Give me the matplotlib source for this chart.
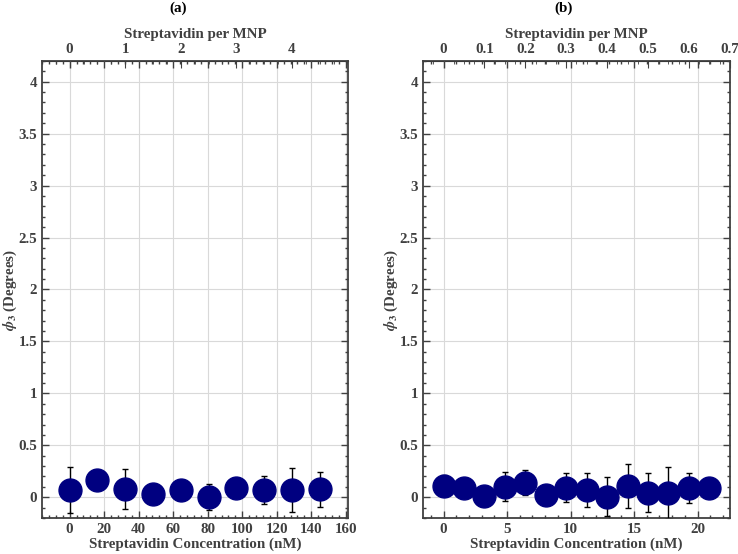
from matplotlib import pyplot as plt
from matplotlib.ticker import MultipleLocator, AutoMinorLocator

# nM of streptavidin per one "streptavidin per MNP"
NM_PER_MNP = 32.2

# panel (a)
conc_a = [0, 16.1, 32.2, 48.3, 64.4, 80.5, 96.6, 112.7, 128.8, 144.9]
phi_a = [0.067, 0.167, 0.08, 0.035, 0.07, 0.0, 0.087, 0.07, 0.067, 0.077]
err_a = [0.22, 0.077, 0.19, 0.087, 0.08, 0.125, 0.087, 0.135, 0.21, 0.17]

# panel (b)
conc_b = [0, 1.61, 3.22, 4.83, 6.44, 8.05, 9.66, 11.27, 12.88, 14.49,
          16.1, 17.71, 19.32, 20.93]
phi_b = [0.112, 0.087, 0.01, 0.103, 0.141, 0.022, 0.09, 0.07, 0.006, 0.106,
         0.045, 0.042, 0.09, 0.087]
err_b = [0.1, 0.075, 0.07, 0.137, 0.12, 0.095, 0.14, 0.167, 0.19, 0.21,
         0.185, 0.25, 0.145, 0.095]

top_ticks_a = [0, 1, 2, 3, 4]
top_ticks_b = [0, 0.1, 0.2, 0.3, 0.4, 0.5, 0.6, 0.7]
y_ticks = [0, 0.5, 1, 1.5, 2, 2.5, 3, 3.5, 4]

plt.rcParams['font.family'] = 'Liberation Serif'
plt.rcParams['font.weight'] = 'bold'
plt.rcParams['mathtext.fontset'] = 'stix'

txt = '#404040'
fs = 10.8
fig = plt.figure(figsize=(7.38, 5.54), dpi=100)


def panel(rect, x, y, err, xlim, xmaj, xmin, top_ticks, letter, lx):
    ax = fig.add_axes(rect)
    ax.errorbar(x, y, yerr=err, fmt='o', color='#000080', markersize=16.5,
                ecolor='black', elinewidth=1, capsize=2.5, capthick=1, zorder=3)
    ax.set_xlim(*xlim)
    ax.set_ylim(-0.2, 4.2)
    ax.set_yticks(y_ticks)
    ax.set_yticklabels(['0', '0.5', '1', '1.5', '2', '2.5', '3', '3.5', '4'])
    ax.yaxis.set_minor_locator(MultipleLocator(0.1))
    ax.xaxis.set_major_locator(MultipleLocator(xmaj))
    ax.xaxis.set_minor_locator(MultipleLocator(xmin))
    ax.grid(True, which='major', color='#d9d9d9', lw=0.8)
    ax.set_axisbelow(True)
    ax.tick_params(which='both', direction='in', top=True, right=True,
                   colors='#404040', labelcolor=txt, labelsize=fs, width=1)
    ax.tick_params(which='major', length=5)
    ax.tick_params(which='minor', length=2.5)
    for s in ax.spines.values():
        s.set_color('#404040')
        s.set_linewidth(1.3)
    ax.set_xlabel('Streptavidin Concentration (nM)', fontsize=fs,
                  fontweight='bold', color=txt, labelpad=1)
    ax.set_ylabel(r'$\phi_3$ (Degrees)', fontsize=fs, fontweight='bold',
                  color=txt)
    ax.yaxis.set_label_coords(-0.075, 0.5)

    sec = ax.secondary_xaxis('top', functions=(lambda v: v / NM_PER_MNP,
                                               lambda v: v * NM_PER_MNP))
    sec.set_xticks(top_ticks)
    sec.set_xticklabels([('%g' % t) for t in top_ticks])
    sec.xaxis.set_minor_locator(AutoMinorLocator(4))
    sec.tick_params(which='both', direction='in', colors='#404040',
                    labelcolor=txt, labelsize=fs)
    sec.tick_params(which='major', length=5)
    sec.tick_params(which='minor', length=2.5)
    sec.set_xlabel('Streptavidin per MNP', fontsize=fs, fontweight='bold',
                   color=txt, labelpad=4)
    fig.text(lx, 0.985, letter, ha='center', va='center', fontsize=fs,
             fontweight='bold', color='black')
    return ax


panel([0.057, 0.065, 0.415, 0.825], conc_a, phi_a, err_a, (-16, 161.5),
      20, 4, top_ticks_a, '(a)', 0.241)
panel([0.573, 0.065, 0.416, 0.825], conc_b, phi_b, err_b, (-1.63, 22.55),
      5, 1, top_ticks_b, '(b)', 0.763)

plt.savefig('out.png', dpi=100)
